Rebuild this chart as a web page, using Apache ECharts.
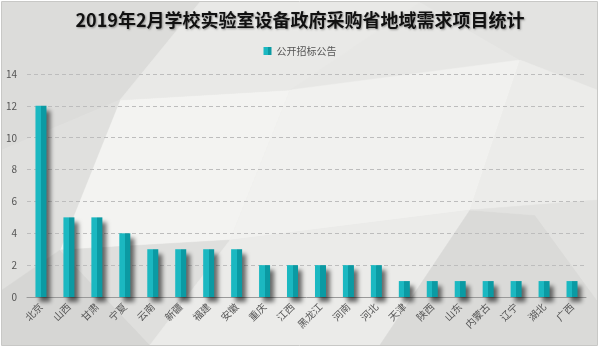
<!DOCTYPE html>
<html>
<head>
<meta charset="utf-8">
<script src="https://cdn.jsdelivr.net/npm/echarts@6/dist/echarts.min.js"></script>
<style>
html,body{margin:0;padding:0;background:#fff;}
#chart{width:600px;height:348px;}
</style>
</head>
<body>
<div id="chart"></div>
<script>
// Provinces and their counts of public tender notices
const provinces = ['北京','山西','甘肃','宁夏','云南','新疆','福建','安徽','重庆','江西','黑龙江','河南','河北','天津','陕西','山东','内蒙古','辽宁','湖北','广西'];
const tenderCounts = [12,5,5,4,3,3,3,3,2,2,2,2,2,1,1,1,1,1,1,1];
const yTicks = { min: 0, max: 14, step: 2 };

const chart = echarts.init(document.getElementById('chart'));

// Low-poly grey backdrop
const bgPolys = [
  { pts: [[2,2],[597,2],[597,345],[2,345]], fill: '#e7e7e5' },
  { pts: [[2,2],[200,2],[120,100],[2,150]], fill: '#dcdcda' },
  { pts: [[120,100],[290,90],[230,240],[60,250]], fill: '#f3f3f1' },
  { pts: [[290,90],[520,60],[470,210],[230,240]], fill: '#f1f1ef' },
  { pts: [[200,2],[420,2],[290,90],[120,100]], fill: '#e9e9e7' },
  { pts: [[420,2],[597,2],[597,90],[520,60]], fill: '#e3e3e1' },
  { pts: [[520,60],[597,90],[597,200],[470,210]], fill: '#ececea' },
  { pts: [[2,150],[120,100],[60,250],[2,290]], fill: '#e0e0de' },
  { pts: [[2,290],[60,250],[150,345],[2,345]], fill: '#d6d6d4' },
  { pts: [[60,250],[230,240],[150,345]], fill: '#dfdfdd' },
  { pts: [[230,240],[470,210],[380,345],[150,345]], fill: '#ebebe9' },
  { pts: [[470,210],[535,215],[597,300],[597,345],[380,345]], fill: '#dadad8' },
  { pts: [[470,210],[597,200],[597,300],[535,215]], fill: '#e2e2e0' }
];

const graphics = bgPolys.map(p => ({
  type: 'polygon',
  silent: true,
  z: -10,
  shape: { points: p.pts },
  style: { fill: p.fill, stroke: p.fill, lineWidth: 0.5 }
}));
graphics.push({
  type: 'rect', silent: true, z: -9,
  shape: { x: 1.5, y: 1.5, width: 596, height: 344 },
  style: { fill: 'none', stroke: '#c8c8c6', lineWidth: 1 }
});

chart.setOption({
  animation: false,
  backgroundColor: '#ffffff',
  graphic: graphics,
  title: {
    text: '2019年2月学校实验室设备政府采购省地域需求项目统计',
    left: 'center',
    top: 6,
    textStyle: {
      fontFamily: 'Noto Sans CJK SC',
      fontSize: 18,
      fontWeight: 'bold',
      color: '#111',
      textShadowColor: 'rgba(0,0,0,0.35)',
      textShadowBlur: 2,
      textShadowOffsetX: 1,
      textShadowOffsetY: 1
    }
  },
  legend: {
    data: ['公开招标公告'],
    top: 41,
    left: 'center',
    icon: 'rect',
    itemWidth: 8,
    itemHeight: 8,
    itemGap: 4,
    textStyle: { fontFamily: 'Noto Sans CJK SC', fontSize: 10, color: '#555' }
  },
  grid: { left: 27, right: 14, top: 74, bottom: 51, containLabel: false },
  xAxis: {
    type: 'category',
    data: provinces,
    axisLine: { lineStyle: { color: '#999', width: 1 } },
    axisTick: { show: false },
    axisLabel: {
      rotate: 45,
      interval: 0,
      margin: 8,
      fontFamily: 'Noto Sans CJK SC',
      fontSize: 10,
      color: '#555'
    }
  },
  yAxis: {
    type: 'value',
    min: yTicks.min,
    max: yTicks.max,
    interval: yTicks.step,
    axisLine: { show: false },
    axisTick: { show: false },
    axisLabel: { fontFamily: 'Noto Sans CJK SC', fontSize: 10, color: '#555', margin: 10 },
    splitLine: { lineStyle: { color: '#bdbdbd', type: [4, 3] } }
  },
  series: [{
    name: '公开招标公告',
    type: 'bar',
    data: tenderCounts,
    barWidth: 11,
    itemStyle: {
      color: {
        type: 'linear', x: 0, y: 0, x2: 1, y2: 0,
        colorStops: [
          { offset: 0, color: '#1bb8c1' },
          { offset: 0.5, color: '#1bb8c1' },
          { offset: 0.5, color: '#0b9aa3' },
          { offset: 1, color: '#0b9aa3' }
        ]
      },
      shadowColor: 'rgba(0,0,0,0.55)',
      shadowBlur: 4,
      shadowOffsetX: 4,
      shadowOffsetY: 5
    }
  }],
  color: ['#12a9b2']
});
</script>
</body>
</html>
